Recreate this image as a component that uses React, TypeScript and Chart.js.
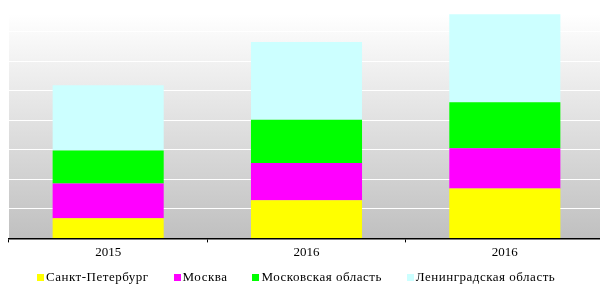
import React, { useEffect, useRef } from "react";
import { Chart, registerables } from "chart.js";

Chart.register(...registerables);

const categories = ["2015", "2016", "2016"];
const seriesNames = ["Санкт-Петербург", "Москва", "Московская область", "Ленинградская область"];
const spb = [0.68, 1.29, 1.69];
const moscow = [1.18, 1.26, 1.36];
const moscowRegion = [1.12, 1.47, 1.56];
const lenRegion = [2.21, 2.63, 2.98];
const colors = ["#ffff00", "#ff00ff", "#00ff00", "#ccffff"];
const yMax = 7.6;

const FONT = '"Liberation Serif", "Times New Roman", serif';

const bgPlugin = {
  id: "bgGradient",
  beforeDraw(chart: any) {
    const { ctx, chartArea } = chart;
    if (!chartArea) return;
    const g = ctx.createLinearGradient(0, chartArea.top, 0, chartArea.bottom);
    g.addColorStop(0, "#ffffff");
    g.addColorStop(1, "#c0c0c0");
    ctx.save();
    ctx.fillStyle = g;
    ctx.fillRect(chartArea.left, chartArea.top, chartArea.right - chartArea.left, chartArea.bottom - chartArea.top);
    ctx.restore();
  },
};

const legendPlugin = {
  id: "bottomLegend",
  afterDraw(chart: any) {
    const { ctx } = chart;
    const box = 7;
    const boxGap = 2;
    const itemGap = 25;
    const baseline = 280.5;
    ctx.save();
    const hasLS = "letterSpacing" in ctx;
    if (hasLS) {
      ctx.font = `13px ${FONT}`;
      (ctx as any).letterSpacing = "0.5px";
    } else {
      ctx.font = `14px ${FONT}`;
    }
    const items = chart.data.datasets.map((ds: any) => ({
      text: ds.label as string,
      color: ds.backgroundColor as string,
      w: ctx.measureText(ds.label).width,
    }));
    const total = items.reduce((s: number, it: any) => s + box + boxGap + it.w, 0) + itemGap * (items.length - 1);
    let x = Math.round(296 - total / 2);
    ctx.textBaseline = "alphabetic";
    ctx.textAlign = "left";
    for (const it of items) {
      ctx.fillStyle = it.color;
      ctx.fillRect(Math.round(x), Math.round(baseline) - box, box, box);
      ctx.fillStyle = "#000";
      ctx.fillText(it.text, x + box + boxGap, baseline);
      x += box + boxGap + it.w + itemGap;
    }
    ctx.restore();
  },
};

export default function App() {
  const ref = useRef<HTMLCanvasElement | null>(null);
  useEffect(() => {
    if (!ref.current) return;
    const values = [spb, moscow, moscowRegion, lenRegion];
    const chart = new Chart(ref.current, {
      type: "bar",
      data: {
        labels: categories,
        datasets: seriesNames.map((name, i) => ({
          label: name,
          data: values[i],
          backgroundColor: colors[i],
          borderWidth: 0,
          categoryPercentage: 0.56,
          barPercentage: 1,
        })),
      },
      options: {
        animation: false,
        responsive: false,
        maintainAspectRatio: false,
        layout: { padding: { top: 14, left: 9, right: 0, bottom: 24 } },
        plugins: {
          legend: { display: false },
          tooltip: { enabled: false },
        },
        scales: {
          x: {
            stacked: true,
            grid: { drawOnChartArea: false, drawTicks: true, tickLength: 4, color: "#000", offset: true },
            border: { display: true, color: "#000", width: 1.5 },
            ticks: { color: "#000", font: { family: FONT, size: 13 }, padding: 2 },
          },
          y: {
            stacked: true,
            min: 0,
            max: yMax,
            ticks: { display: false, stepSize: 1 },
            grid: { color: "#ffffff", lineWidth: 1, drawTicks: false },
            border: { display: false },
          },
        },
      },
      plugins: [bgPlugin, legendPlugin],
    });
    return () => chart.destroy();
  }, []);
  return (
    <div style={{ position: "fixed", left: 0, top: 0, width: 600, height: 286, overflow: "hidden", background: "#fff" }}>
      <canvas ref={ref} width={604} height={286} style={{ display: "block", width: 604, height: 286 }} />
    </div>
  );
}
